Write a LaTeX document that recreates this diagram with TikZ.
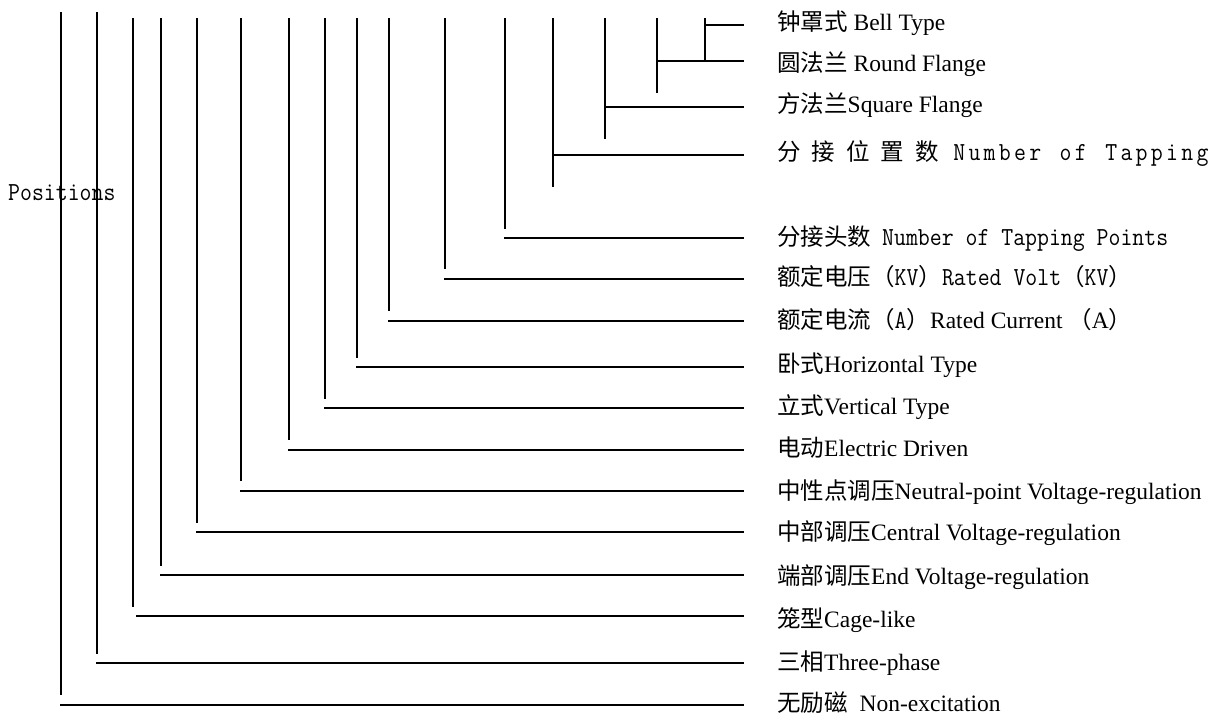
\documentclass[tikz,border=0pt]{standalone}
\usepackage{fontspec}
\setmainfont{Liberation Serif}
\newfontfamily\cjk{Noto Sans CJK SC}
\newcommand\mono[1]{\scalebox{0.89}[1]{\ttfamily\fontsize{26}{30}\selectfont #1}}
\newcommand\lsp[1]{\makebox[15.2pt][c]{\mono{#1}}}
\tikzset{
  ln/.style={line width=2pt, line cap=butt},
  lbl/.style={inner sep=0pt, anchor=base west, font=\fontsize{23.5}{28}\selectfont}
}
\begin{document}
\begin{tikzpicture}[x=1pt,y=-1pt]
\useasboundingbox (0,0) rectangle (1227,716);
% vertical stems
\foreach \i/\x/\t/\b in {1/61/12/695, 2/97/12/654, 3/133/18/607, 4/161/18/566,
  5/197/18/523, 6/241/18/481, 7/289/18/440, 8/325/18/399, 9/357/18/358,
  10/389/18/311, 11/445/18/269, 12/505/18/229, 13/553/18/187, 14/605/18/139,
  15/657/18/93, 16/705/18/61}{
  \coordinate (vt\i) at (\x,\t);
  \coordinate (vb\i) at (\x,\b);
  \draw[ln] (vt\i) -- (vb\i);
}
% horizontal leaders
\foreach \i/\x/\y in {1/704/25, 2/656/61, 3/604/107, 4/552/155, 5/504/238, 6/444/279,
  7/388/321, 8/356/367, 9/324/408, 10/288/450, 11/240/491, 12/196/532,
  13/160/575, 14/136/616, 15/96/663, 16/60/705}{
  \coordinate (hs\i) at (\x,\y);
  \coordinate (he\i) at (744,\y);
  \draw[ln] (hs\i) -- (he\i);
}
% labels
\node[lbl] (pos) at (8,200) {\mono{Positions}};
\node[lbl] (L1) at (777,30.5) {{\cjk 钟罩式} Bell Type};
\node[lbl] (L2) at (777,71) {{\cjk 圆法兰} Round Flange};
\node[lbl] (L3) at (777,112.5) {{\cjk 方法兰}Square Flange};
\node[lbl] (L4) at (777,160.5) {{\cjk 分\hspace{11pt}接\hspace{11pt}位\hspace{11pt}置\hspace{11pt}数}\hspace{13pt}\lsp{N}\lsp{u}\lsp{m}\lsp{b}\lsp{e}\lsp{r}\lsp{}\lsp{o}\lsp{f}\lsp{}\lsp{T}\lsp{a}\lsp{p}\lsp{p}\lsp{i}\lsp{n}\lsp{g}};
\node[lbl] (L5) at (777,245) {{\cjk 分接头数}\hspace{11pt}\mono{Number of Tapping Points}};
\node[lbl] (L6) at (777,285.5) {{\cjk 额定电压（}\mono{KV}{\cjk ）}\mono{Rated Volt}{\cjk （}\mono{KV}{\cjk ）}};
\node[lbl] (L7) at (777,328.5) {{\cjk 额定电流（}\mono{A}{\cjk ）}Rated Current {\cjk （}A{\cjk ）}};
\node[lbl] (L8) at (777,372.5) {{\cjk 卧式}Horizontal Type};
\node[lbl] (L9) at (777,414.5) {{\cjk 立式}Vertical Type};
\node[lbl] (L10) at (777,456.5) {{\cjk 电动}Electric Driven};
\node[lbl] (L11) at (777,499.5) {{\cjk 中性点调压}Neutral-point Voltage-regulation};
\node[lbl] (L12) at (777,540.5) {{\cjk 中部调压}Central Voltage-regulation};
\node[lbl] (L13) at (777,584.5) {{\cjk 端部调压}End Voltage-regulation};
\node[lbl] (L14) at (777,627) {{\cjk 笼型}Cage-like};
\node[lbl] (L15) at (777,670.5) {{\cjk 三相}Three-phase};
\node[lbl] (L16) at (777,711.5) {{\cjk 无励磁}\hspace{12pt}Non-excitation};
\end{tikzpicture}
\end{document}
